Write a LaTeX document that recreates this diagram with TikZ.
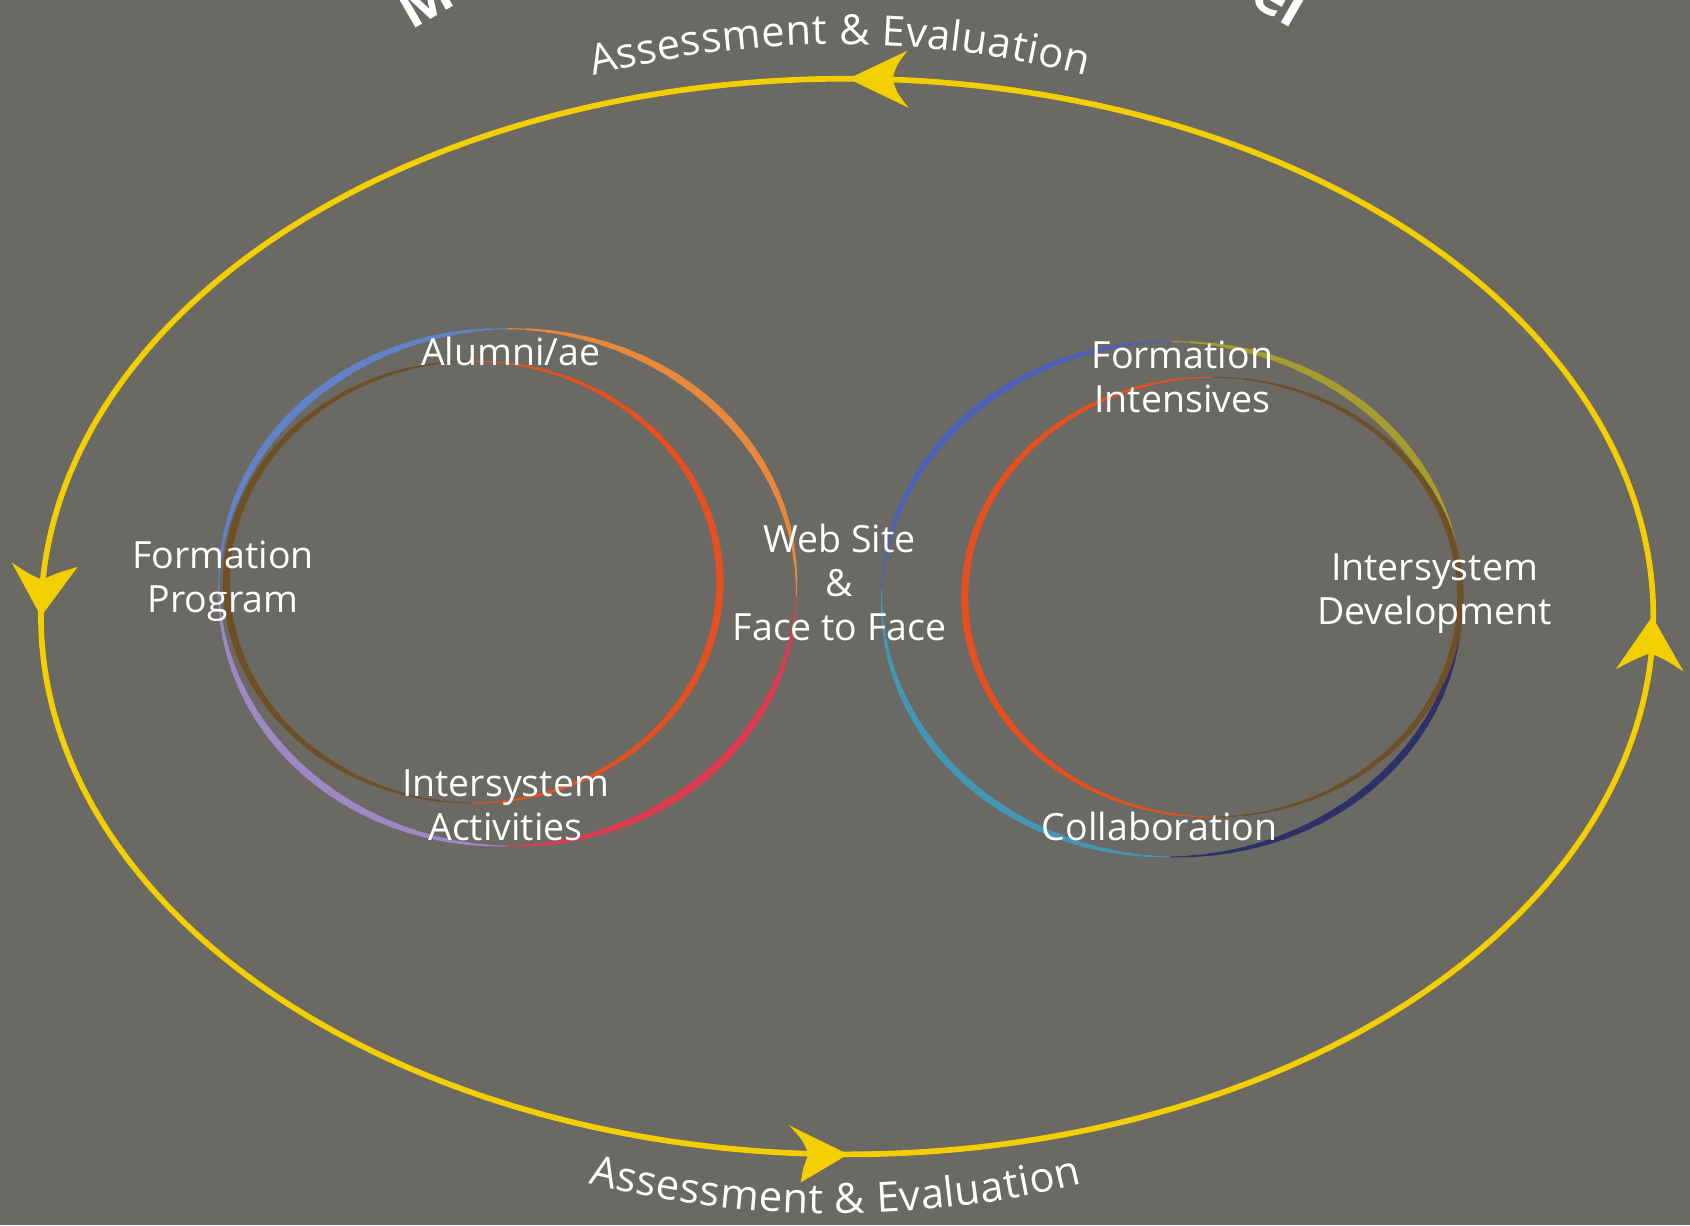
\documentclass[tikz,border=0pt]{standalone}
\usepackage{fontspec}
\setmainfont{Open Sans}
\definecolor{bg}{HTML}{6A6963}
\definecolor{ayellow}{HTML}{F4CF00}
\definecolor{lblue}{HTML}{6282C8}
\definecolor{lorange}{HTML}{E8883A}
\definecolor{lred}{HTML}{E03A50}
\definecolor{lpurple}{HTML}{9E88C4}
\definecolor{ibrown}{HTML}{6E4F26}
\definecolor{iorange}{HTML}{E8501F}
\definecolor{rblue}{HTML}{4C60B8}
\definecolor{rolive}{HTML}{A59E2E}
\definecolor{rnavy}{HTML}{2E3168}
\definecolor{rteal}{HTML}{4396B4}
\newcommand\ringseg[9]{%
  \foreach \i in {0,...,23}{%
    \pgfmathsetmacro\sa{#5+(#6-#5)*\i/24}%
    \pgfmathsetmacro\ea{#5+(#6-#5)*(\i+1)/24+0.4}%
    \pgfmathsetmacro\ww{#9+(#8-#9)*sin(180*(\i+0.5)/24)}%
    \draw[#7, line width=\ww*0.567pt] plot[domain=\sa:\ea, samples=4] ({#1+#3*cos(\x)},{#2+#4*sin(\x)});
  }%
}
% #1 cx, #2 cy, #3 r, #4 sign (1 = top arc, -1 = bottom arc), #5 name prefix
% characters with their centre offsets (in em) from the middle of the text
\newcommand\arctext[5]{%
  \foreach \ch/\off [count=\k] in {A/-5.533, s/-4.977, s/-4.498, e/-3.978, s/-3.458, s/-2.979,
      m/-2.2755, e/-1.531, n/-0.943, t/-0.455, \&/0.349, E/1.2505, v/1.7785, a/2.3065,
      l/2.7135, u/3.150, a/3.7355, t/4.194, i/4.5035, o/4.9335, n/5.542}{%
    \pgfmathsetmacro\aphi{\off*39.6/#3*180/pi}%
    \pgfmathsetmacro\apx{#1+#3*sin(\aphi)}%
    \pgfmathsetmacro\apy{#2-#4*#3*cos(\aphi)}%
    \pgfmathsetmacro\arot{-#4*\aphi}%
    \node[arcch, rotate=\arot] (#5\k) at (\apx,\apy) {\ch};
  }%
}
\tikzset{
  lbl/.style={text=white, align=center, font=\fontsize{19.8}{23.2}\selectfont, inner sep=0pt},
  arcch/.style={text=white, anchor=base, font=\fontsize{22}{26}\selectfont, inner sep=0pt},
  ttl/.style={text=white, font=\bfseries\fontsize{30}{36}\selectfont, inner sep=0pt},
  yline/.style={draw=ayellow, line width=3pt},
  ahead/.style={fill=ayellow, draw=none}
}
\begin{document}
\begin{tikzpicture}[x=0.02cm, y=-0.02cm]
\fill[bg] (0,0) rectangle (1568,1137);
\useasboundingbox (0,0) rectangle (1568,1137);
\clip (0,0) rectangle (1568,1137);

% title fragments
\node[ttl, rotate=30] (titleM) at (394,0) {M};
\node[ttl, rotate=-30] (titleEl) at (1189,-2) {el};

% outer yellow loop
\draw[yline] plot[domain=0:360, samples=241, smooth] ({786+748*cos(\x)},{572+499*sin(\x)});
% arrowheads
\fill[ahead] (787,73) -- (842,47) .. controls (832,60) .. (828,73) .. controls (832,86) .. (843,100) -- cycle;
\fill[ahead] (787,1071) -- (732,1044) .. controls (745,1058) .. (750,1071) .. controls (745,1084) .. (743,1097) -- cycle;
\fill[ahead] (38,572) -- (11,522) .. controls (26,532) .. (39,538) .. controls (52,532) .. (72,526) -- cycle;
\fill[ahead] (1533,572) -- (1499,621) .. controls (1516,612) .. (1531,606) .. controls (1545,612) .. (1562,623) -- cycle;

% arc texts
\arctext{779}{941}{900}{1}{ta}
\arctext{775}{176}{950}{-1}{ba}

% left system
\ringseg{471}{545}{268}{240}{90}{180}{lpurple}{7}{0.6}
\ringseg{471}{545}{268}{240}{180}{270}{lblue}{7}{0.6}
\ringseg{471}{545}{268}{240}{270}{362}{lorange}{7}{0.6}
\ringseg{471}{545}{268}{240}{362}{450}{lred}{7}{0.6}
\ringseg{439}{540}{229}{205}{90}{270}{ibrown}{6.5}{0.6}
\ringseg{439}{540}{229}{205}{270}{450}{iorange}{6.5}{0.6}

% right system
\ringseg{1087}{556}{269}{239}{90}{182}{rteal}{6.5}{0.6}
\ringseg{1087}{556}{269}{239}{182}{270}{rblue}{6}{0.6}
\ringseg{1087}{556}{269}{239}{270}{358}{rolive}{7}{0.6}
\ringseg{1087}{556}{269}{239}{358}{450}{rnavy}{6.5}{0.6}
\ringseg{1125}{554}{230}{204}{90}{270}{iorange}{6.5}{0.6}
\ringseg{1125}{554}{230}{204}{270}{450}{ibrown}{6}{0.6}

% labels
\node[lbl] (alumni) at (474,326) {Alumni/ae};
\node[lbl] (formprog) at (207,539) {Formation\\Program};
\node[lbl] (isact) at (469,747) {Intersystem\\Activities};
\node[lbl] (web) at (779,540) {Web Site\\\&\\Face to Face};
\node[lbl] (formint) at (1097,350) {Formation\\Intensives};
\node[lbl] (isdev) at (1331,551) {Intersystem\\Development};
\node[lbl] (collab) at (1076,767) {Collaboration};
\end{tikzpicture}
\end{document}
